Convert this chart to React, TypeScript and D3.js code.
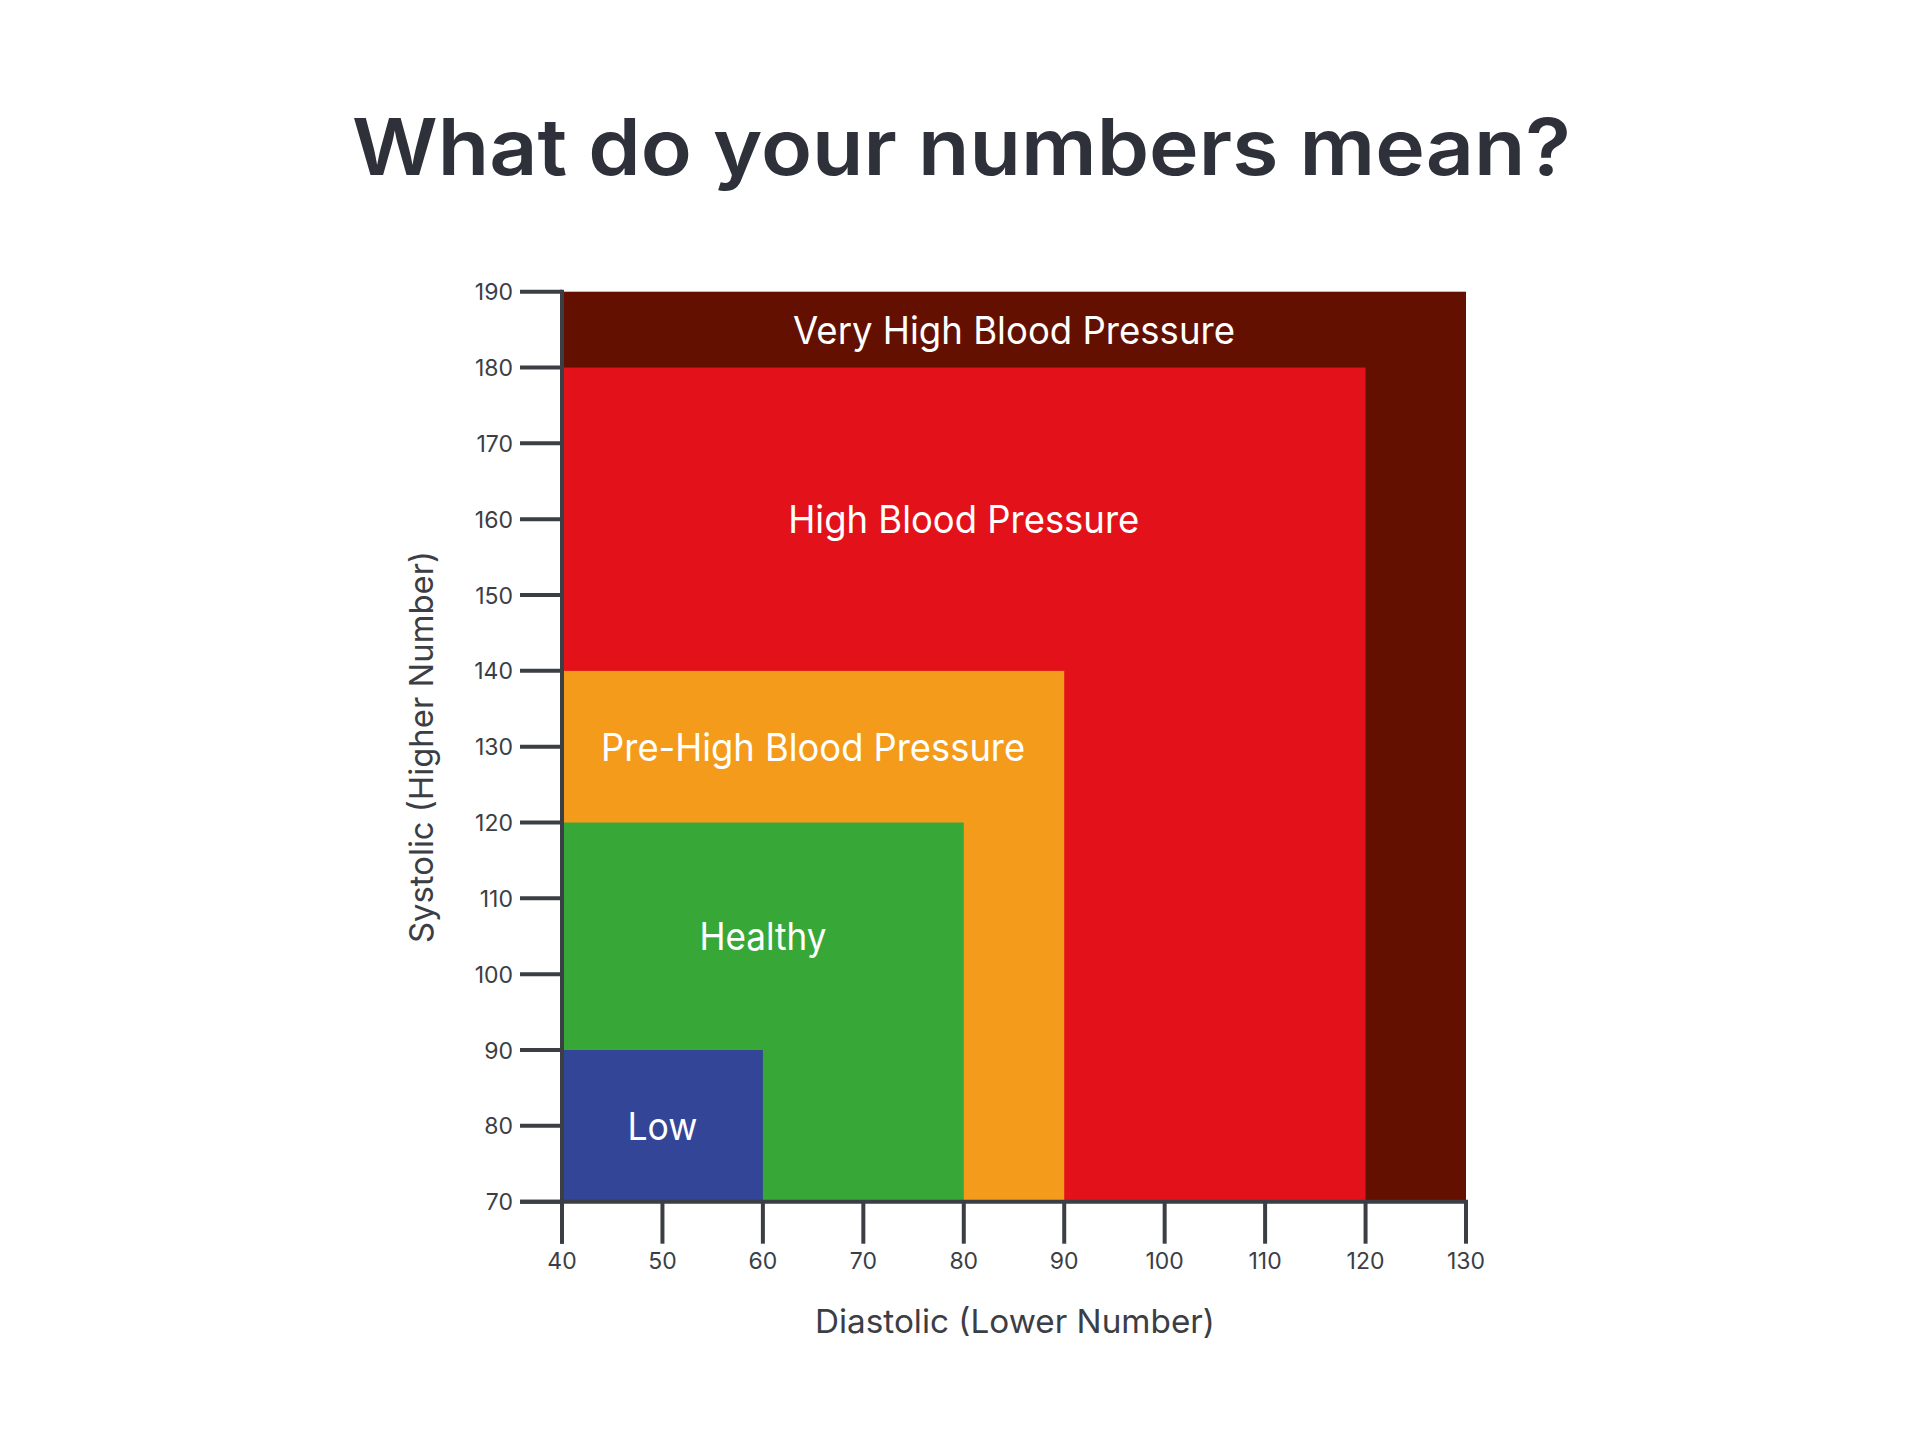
import React from "react";
import * as d3 from "d3";

const categories = ["Very High Blood Pressure", "High Blood Pressure", "Pre-High Blood Pressure", "Healthy", "Low"];
const diastolicMax = [130, 120, 90, 80, 60];
const systolicMax = [190, 180, 140, 120, 90];
const labelSystolic = [185, 160, 130, 105, 80];
const labelDiastolic = [85, 80, 65, 60, 50];
const colors = ["#641000", "#e3121a", "#f49b1b", "#37a838", "#334597"];
const xTicks = [40, 50, 60, 70, 80, 90, 100, 110, 120, 130];
const yTicks = [70, 80, 90, 100, 110, 120, 130, 140, 150, 160, 170, 180, 190];
const labelWidths = [442, 351, 424, 127, 70];

const title = "What do your numbers mean?";
const xTitle = "Diastolic (Lower Number)";
const yTitle = "Systolic (Higher Number)";

const AXIS = "#3b3e45";
const FONT = "Inter, 'Noto Sans', sans-serif";

export default function App() {
  const x = d3.scaleLinear().domain([40, 130]).range([562, 1466]);
  const y = d3.scaleLinear().domain([70, 190]).range([1201.7, 291.7]);
  const tickLen = 42;
  return (
    <svg width={1920} height={1438} style={{ position: "absolute", left: 0, top: 0, background: "#fff" }}>
      <rect x={0} y={0} width={1920} height={1438} fill="#fff" />
      <text x={961.5} y={175} textAnchor="middle" fontFamily={FONT} fontWeight={600} fontSize={78}
        fill="#2e313a" textLength={1219} lengthAdjust="spacingAndGlyphs">{title}</text>
      {categories.map((c, i) => (
        <rect key={c} x={x(40)} y={y(systolicMax[i])} width={x(diastolicMax[i]) - x(40)}
          height={y(70) - y(systolicMax[i])} fill={colors[i]} />
      ))}
      {categories.map((c, i) => (
        <text key={"l" + c} x={x(labelDiastolic[i])} y={y(labelSystolic[i]) + 14} textAnchor="middle"
          fontFamily={FONT} fontSize={38} fill="#fff" textLength={labelWidths[i]}
          lengthAdjust="spacingAndGlyphs">{c}</text>
      ))}
      {/* axes */}
      <line x1={x(40)} x2={x(40)} y1={y(190) - 2} y2={y(70) + tickLen} stroke={AXIS} strokeWidth={4} />
      <line x1={x(40) - tickLen} x2={x(130) + 2} y1={y(70)} y2={y(70)} stroke={AXIS} strokeWidth={4} />
      {yTicks.map((t) => (
        <g key={"y" + t}>
          <line x1={x(40) - tickLen} x2={x(40)} y1={y(t)} y2={y(t)} stroke={AXIS} strokeWidth={4} />
          <text x={513} y={y(t) + 8.5} textAnchor="end" fontFamily={FONT} fontSize={23} fill={AXIS}>{t}</text>
        </g>
      ))}
      {xTicks.map((t) => (
        <g key={"x" + t}>
          <line x1={x(t)} x2={x(t)} y1={y(70)} y2={y(70) + tickLen} stroke={AXIS} strokeWidth={4} />
          <text x={x(t)} y={1269} textAnchor="middle" fontFamily={FONT} fontSize={23} fill={AXIS}>{t}</text>
        </g>
      ))}
      <text x={1015} y={1333} textAnchor="middle" fontFamily={FONT} fontSize={33} fill={AXIS}
        textLength={400} lengthAdjust="spacingAndGlyphs">{xTitle}</text>
      <text transform="translate(433,747) rotate(-90)" textAnchor="middle" fontFamily={FONT} fontSize={33}
        fill={AXIS} textLength={392} lengthAdjust="spacingAndGlyphs">{yTitle}</text>
    </svg>
  );
}
